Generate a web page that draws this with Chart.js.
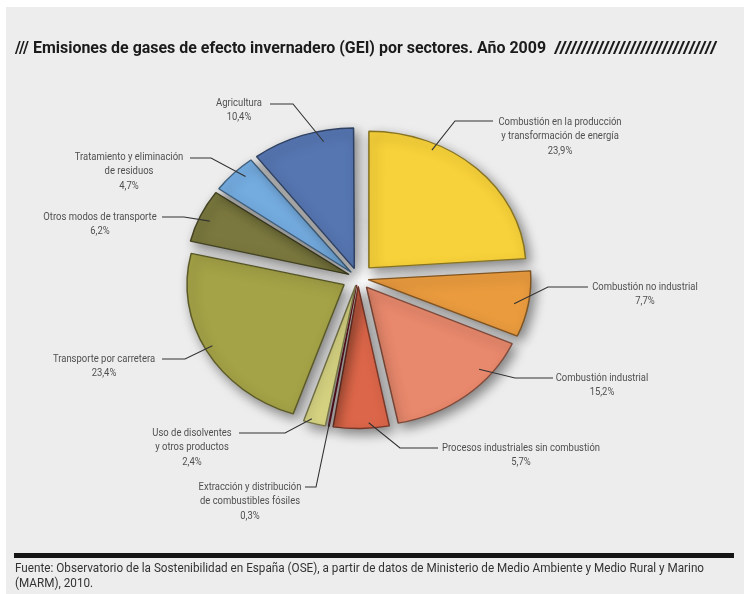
<!DOCTYPE html>
<html>
<head>
<meta charset="utf-8">
<script src="https://cdn.jsdelivr.net/npm/chart.js@4.4.1/dist/chart.umd.min.js"></script>
<style>
  body { margin: 0; background: #fff; width: 750px; height: 594px; overflow: hidden; position: relative; font-family: Roboto, "Liberation Sans", sans-serif; }
  #frame { position: absolute; left: 6px; top: 7px; width: 738px; height: 587px; background: #ededed; }
  #chart { position: absolute; left: 0; top: 0; }
  .fit { position: absolute; white-space: nowrap; transform-origin: 0 0; }
  #title, #slashes { top: 37px; font-weight: bold; font-size: 17px; line-height: 20px; color: #1b1b1b; }
  #bar { position: absolute; left: 14px; top: 553px; width: 720px; height: 5px; background: #151515; }
  #source { left: 15px; top: 560px; font-size: 12.5px; line-height: 15px; color: #333; }
</style>
</head>
<body>
<div id="frame"></div>
<canvas id="chart" width="750" height="594"></canvas>
<div id="title" class="fit" data-w="531" style="left:15px">/// Emisiones de gases de efecto invernadero (GEI) por sectores. Año 2009</div>
<div id="slashes" class="fit" data-w="163" style="left:554px">//////////////////////////////</div>
<div id="bar"></div>
<div id="source" class="fit" data-w="689">Fuente: Observatorio de la Sostenibilidad en España (OSE), a partir de datos de Ministerio de Medio Ambiente y Medio Rural y Marino<br>(MARM), 2010.</div>

<script>
// sectors, clockwise from 12 o'clock (label lines as printed)
const sectores = [
  ["Combustión en la producción", "y transformación de energía"],
  ["Combustión no industrial"],
  ["Combustión industrial"],
  ["Procesos industriales sin combustión"],
  ["Extracción y distribución", "de combustibles fósiles"],
  ["Uso de disolventes", "y otros productos"],
  ["Transporte por carretera"],
  ["Otros modos de transporte"],
  ["Tratamiento y eliminación", "de residuos"],
  ["Agricultura"]
];
const valores = [23.9, 7.7, 15.2, 5.7, 0.3, 2.4, 23.4, 6.2, 4.7, 10.4];
const colores = ["#F8D23A", "#EA9B3E", "#E8886C", "#DC6649", "#C7253F",
                 "#DAD784", "#A5A347", "#7A783E", "#74ACE0", "#5676B2"];

// label layout: text centre, first line y, leader start x, elbow, spot in slice (t along arc, r of radius)
const rotulos = [
  { x: 560, y: 122, from: 493, elbow: [455, 121], t: 0.29, r: 0.95 },
  { x: 645, y: 287, from: 588, elbow: [548, 287], t: 0.53, r: 0.91 },
  { x: 602, y: 378, from: 553, elbow: [515, 378], t: 0.29, r: 0.92 },
  { x: 521, y: 448, from: 438, elbow: [400, 448], t: 0.36, r: 0.96 },
  { x: 250, y: 487, from: 305, elbow: [316, 487], t: 0.5, r: 0.97 },
  { x: 192, y: 433, from: 239, elbow: [285, 433], t: 0.67, r: 0.97 },
  { x: 104, y: 359, from: 162, elbow: [185, 359], t: 0.51, r: 0.95 },
  { x: 100, y: 217, from: 162, elbow: [184, 217], t: 0.47, r: 0.93 },
  { x: 129, y: 157, from: 190, elbow: [211, 158], t: 0.63, r: 0.93 },
  { x: 239, y: 103, from: 270, elbow: [293, 104], t: 0.69, r: 0.92 }
];

const cx = 358, cy = 278, R = 157, SY = 0.87, GAP = 16;
const LINE_STEP = 14.5;
const total = valores.reduce((a, b) => a + b, 0);

// fit html text to the widths in the picture
document.querySelectorAll(".fit").forEach((el) => {
  const s = Number(el.dataset.w) / el.offsetWidth;
  el.style.transform = "scaleX(" + s + ")";
});

function shade(hex, f) {
  const n = parseInt(hex.slice(1), 16);
  const c = [n >> 16, (n >> 8) & 255, n & 255].map((v) => Math.round(v * f));
  return "rgb(" + c.join(",") + ")";
}

function pct(v) {
  return v.toFixed(1).replace(".", ",") + "%";
}

// squash the pie into an ellipse and add shadow/glow
const tiltPlugin = {
  id: "tilt",
  beforeDatasetsDraw(chart) {
    const ctx = chart.ctx;
    const g = ctx.createRadialGradient(cx, cy, 0, cx, cy, 60);
    g.addColorStop(0, "rgba(255,255,255,1)");
    g.addColorStop(1, "rgba(255,255,255,0)");
    ctx.fillStyle = g;
    ctx.fillRect(cx - 65, cy - 65, 130, 130);
    ctx.save();
    ctx.translate(cx, cy);
    ctx.scale(1, SY);
    ctx.translate(-cx, -cy);
    ctx.shadowColor = "rgba(0,0,0,0.45)";
    ctx.shadowBlur = 12;
    ctx.shadowOffsetX = 4;
    ctx.shadowOffsetY = 5;
  },
  afterDatasetsDraw(chart) {
    chart.ctx.restore();
  }
};

// leader lines and labels
const labelPlugin = {
  id: "rotulos",
  afterDraw(chart) {
    const ctx = chart.ctx;
    const arcs = chart.getDatasetMeta(0).data;
    ctx.save();
    ctx.font = "11.5px Roboto, 'Liberation Sans', sans-serif";
    const sx = 158 / ctx.measureText("Procesos industriales sin combustión").width;
    ctx.strokeStyle = "#333";
    ctx.lineWidth = 1.1;
    rotulos.forEach((p, i) => {
      const arc = arcs[i];
      const half = (arc.startAngle + arc.endAngle) / 2;
      const a = arc.startAngle + p.t * (arc.endAngle - arc.startAngle);
      const rr = p.r * arc.outerRadius;
      const px = arc.x + Math.cos(half) * GAP + Math.cos(a) * rr;
      const py = arc.y + (Math.sin(half) * GAP + Math.sin(a) * rr) * SY;
      ctx.beginPath();
      ctx.moveTo(p.from, p.elbow[1]);
      ctx.lineTo(p.elbow[0], p.elbow[1]);
      ctx.lineTo(px, py);
      ctx.stroke();

      const lines = sectores[i].concat([pct(valores[i])]);
      ctx.fillStyle = "#505050";
      ctx.textAlign = "center";
      ctx.textBaseline = "middle";
      lines.forEach((ln, k) => {
        ctx.save();
        ctx.translate(p.x, p.y + k * LINE_STEP);
        ctx.scale(sx, 1);
        ctx.fillText(ln, 0, 0);
        ctx.restore();
      });
    });
    ctx.restore();
  }
};

new Chart(document.getElementById("chart"), {
  type: "pie",
  data: {
    labels: sectores.map((s) => s.join(" ")),
    datasets: [{
      data: valores,
      backgroundColor: colores,
      borderColor: colores.map((c) => shade(c, 0.55)),
      borderWidth: 1.5,
      offset: (c) => {
        const circ = 2 * Math.PI * c.dataset.data[c.dataIndex] / total;
        const fix = 1 - Math.sin(Math.min(Math.PI, circ));
        return 4 * GAP / (1 + fix);
      },
      hoverOffset: 0
    }]
  },
  options: {
    responsive: false,
    animation: false,
    events: [],
    radius: R,
    layout: { padding: { left: 0, top: 0, right: 750 - 2 * cx, bottom: 594 - 2 * cy } },
    plugins: {
      legend: { display: false },
      title: { display: false },
      tooltip: { enabled: false }
    }
  },
  plugins: [tiltPlugin, labelPlugin]
});
</script>
</body>
</html>
